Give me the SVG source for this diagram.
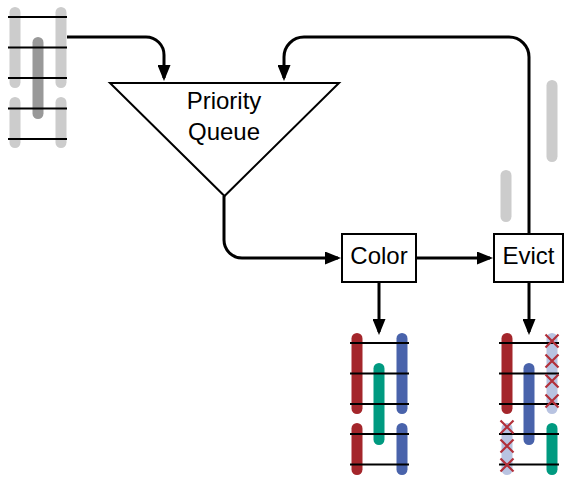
<svg xmlns="http://www.w3.org/2000/svg" width="565" height="480" viewBox="0 0 565 480">
<style>
.node{fill:#fff;stroke:#000;stroke-width:2}
.lbl{font-family:"Liberation Sans",Arial,sans-serif;font-size:24px;fill:#000;text-anchor:middle}
.conn{fill:none;stroke:#000;stroke-width:3;marker-end:url(#arr)}
.bar{stroke-width:11;stroke-linecap:round;fill:none}
.lg{stroke:#cccccc}
.dg{stroke:#999999}
.rd{stroke:#a4262b}
.gn{stroke:#009a80}
.bl{stroke:#4963ab}
.lb{stroke:#b8c3e1}
.edge{stroke:#000;stroke-width:2}
.x{stroke:#b2303a;stroke-width:2.2;fill:none}
</style>
<defs>
<marker id="arr" markerUnits="userSpaceOnUse" markerWidth="16" markerHeight="13" refX="13" refY="6.5" orient="auto">
<path d="M0,0 L16,6.5 L0,13 z" fill="#000"/>
</marker>
</defs>
<rect width="565" height="480" fill="#fff"/>

<g id="input-graph">
<line class="bar lg" x1="15" y1="12.5" x2="15" y2="82.5"/>
<line class="bar lg" x1="61" y1="12.5" x2="61" y2="82.5"/>
<line class="bar lg" x1="15" y1="102.5" x2="15" y2="142.5"/>
<line class="bar lg" x1="61" y1="102.5" x2="61" y2="142.5"/>
<line class="bar dg" x1="38" y1="42.5" x2="38" y2="113.5"/>
<line class="edge" x1="8" y1="17" x2="67" y2="17"/>
<line class="edge" x1="8" y1="47.5" x2="67" y2="47.5"/>
<line class="edge" x1="8" y1="78" x2="67" y2="78"/>
<line class="edge" x1="8" y1="108.5" x2="67" y2="108.5"/>
<line class="edge" x1="8" y1="139" x2="67" y2="139"/>
</g>

<g id="evicted-bars">
<line class="bar lg" x1="552" y1="85.5" x2="552" y2="156.5"/>
<line class="bar lg" x1="506" y1="175.5" x2="506" y2="216.5"/>
</g>

<g id="connectors">
<path class="conn" d="M67,37 H146 A18,18 0 0 1 164,55 V78"/>
<path class="conn" d="M224,196 V240 A18,18 0 0 0 242,258 H338"/>
<path class="conn" d="M417,258 H490"/>
<path class="conn" d="M529,233 V57 A20,20 0 0 0 509,37 H304 A20,20 0 0 0 284,57 V78"/>
<path class="conn" d="M379,282 V332"/>
<path class="conn" d="M529,282 V332"/>
</g>

<g id="priority-queue">
<polygon class="node" points="110,83 339,83 224.5,196"/>
<text class="lbl" x="224" y="109">Priority</text>
<text class="lbl" x="224" y="140">Queue</text>
</g>

<g id="color">
<rect class="node" x="342" y="234" width="74" height="48"/>
<text class="lbl" x="379" y="264">Color</text>
</g>

<g id="evict">
<rect class="node" x="494" y="234" width="69" height="48"/>
<text class="lbl" x="528.5" y="264">Evict</text>
</g>

<g id="colored-graph">
<line class="bar rd" x1="357" y1="338.5" x2="357" y2="408.5"/>
<line class="bar rd" x1="357" y1="428.5" x2="357" y2="469.5"/>
<line class="bar gn" x1="379" y1="368.5" x2="379" y2="439.5"/>
<line class="bar bl" x1="402" y1="338.5" x2="402" y2="408.5"/>
<line class="bar bl" x1="402" y1="428.5" x2="402" y2="469.5"/>
<line class="edge" x1="350" y1="343" x2="409" y2="343"/>
<line class="edge" x1="350" y1="373.5" x2="409" y2="373.5"/>
<line class="edge" x1="350" y1="404" x2="409" y2="404"/>
<line class="edge" x1="350" y1="434" x2="409" y2="434"/>
<line class="edge" x1="350" y1="464.5" x2="409" y2="464.5"/>
</g>

<g id="evicted-graph">
<line class="bar rd" x1="507" y1="338.5" x2="507" y2="408.5"/>
<line class="bar lb" x1="507" y1="428.5" x2="507" y2="469.5"/>
<line class="bar bl" x1="529" y1="368.5" x2="529" y2="439.5"/>
<line class="bar lb" x1="552" y1="338.5" x2="552" y2="408.5"/>
<line class="bar gn" x1="552" y1="428.5" x2="552" y2="469.5"/>
<line class="edge" x1="499" y1="343" x2="559" y2="343"/>
<line class="edge" x1="499" y1="373.5" x2="559" y2="373.5"/>
<line class="edge" x1="499" y1="404" x2="559" y2="404"/>
<line class="edge" x1="499" y1="434" x2="559" y2="434"/>
<line class="edge" x1="499" y1="464.5" x2="559" y2="464.5"/>
<path class="x" d="M545.5,334.5 l13,13 m0,-13 l-13,13 M545.5,354.5 l13,13 m0,-13 l-13,13 M545.5,374.5 l13,13 m0,-13 l-13,13 M545.5,394.5 l13,13 m0,-13 l-13,13"/>
<path class="x" d="M500.5,420.5 l13,13 m0,-13 l-13,13 M500.5,439.5 l13,13 m0,-13 l-13,13 M500.5,458.5 l13,13 m0,-13 l-13,13"/>
</g>
</svg>
